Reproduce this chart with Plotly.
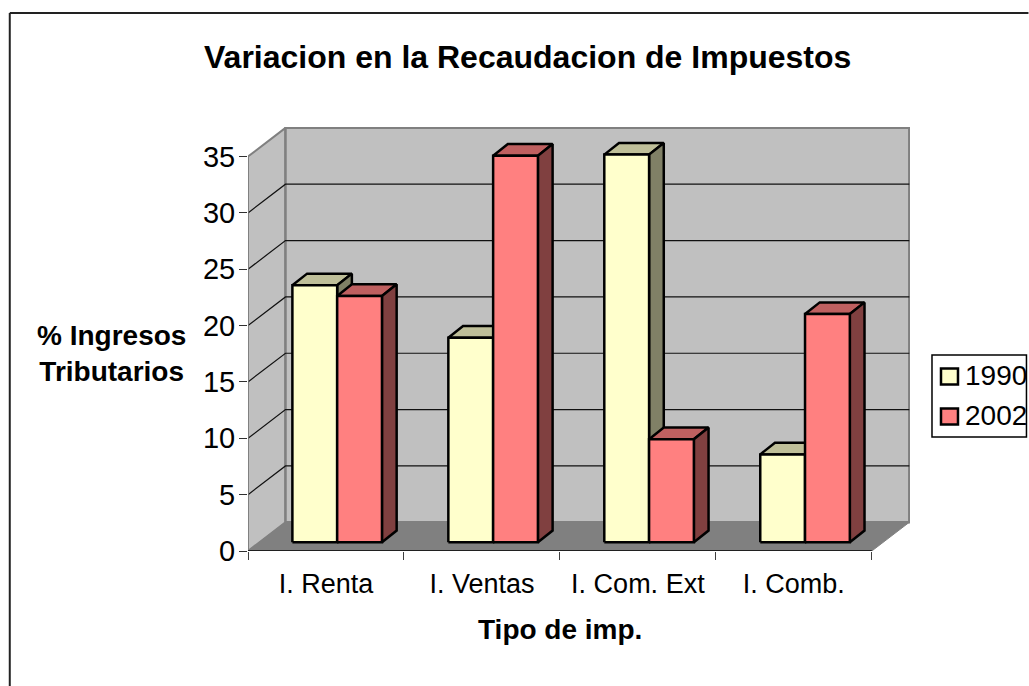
import plotly.graph_objects as go

categories = ["I. Renta", "I. Ventas", "I. Com. Ext", "I. Comb."]
series_names = ["1990", "2002"]
values_1990 = [22.8, 18.15, 34.4, 7.8]
values_2002 = [21.85, 34.3, 9.15, 20.25]
y_ticks = [0, 5, 10, 15, 20, 25, 30, 35]

FONT = "Liberation Sans"
W, H = 1029, 686
L, R, T, B = 248.3, 910.5, 127.0, 551.0
UX = 156.0      # px per category
UY = 11.27      # px per value unit

# depth of the floor and of the bars, in data units
DX, DY = 37.5 / UX, 28.7 / UY
BX, BY = 14.7 / UX, 11.7 / UY
BAR_START, BAR_W, BASE = 44.4 / UX, 44.8 / UX, 8.7 / UY

STYLES = [
    dict(front="#FFFFCC", top="#BFBF99", side="#808066"),
    dict(front="#FF8080", top="#BF6060", side="#804040"),
]

fig = go.Figure()


def poly(xs, ys, fill, line="#000000", width=2.5):
    fig.add_trace(go.Scatter(
        x=xs + xs[:1], y=ys + ys[:1], mode="lines", fill="toself", fillcolor=fill,
        line=dict(color=line, width=width), hoverinfo="skip", showlegend=False,
        cliponaxis=False,
    ))


def path(xs, ys, color, width):
    fig.add_trace(go.Scatter(
        x=xs, y=ys, mode="lines", line=dict(color=color, width=width),
        hoverinfo="skip", showlegend=False, cliponaxis=False,
    ))


top_v = y_ticks[-1]
n = len(categories)
poly([0, DX, DX, 0], [0, DY, top_v + DY, top_v], "#C0C0C0", "#808080", 2)
poly([DX, n + DX, n + DX, DX], [DY, DY, top_v + DY, top_v + DY], "#C0C0C0", "#808080", 2.5)
poly([0, DX, n + DX, n], [0, DY, DY, 0], "#808080", "#808080", 1)

gx, gy = [], []
for v in y_ticks[1:-1]:
    gx += [0, DX, n + DX, None]
    gy += [v, v + DY, v + DY, None]
path(gx, gy, "#111111", 1.2)
path([0, 0], [0, top_v], "#808080", 1.5)
path([0, n], [0, 0], "#000000", 1.5)

for i in range(n):
    for s, vals in enumerate((values_1990, values_2002)):
        st = STYLES[s]
        x0 = i + BAR_START + s * BAR_W
        x1 = x0 + BAR_W
        y0, y1 = BASE, BASE + vals[i]
        poly([x0, x1, x1 + BX, x0 + BX], [y1, y1, y1 + BY, y1 + BY], st["top"])
        poly([x1, x1 + BX, x1 + BX, x1], [y0, y0 + BY, y1 + BY, y1], st["side"])
        poly([x0, x1, x1, x0], [y0, y0, y1, y1], st["front"])


def px(x):
    return (x - L) / (R - L)


def py(y):
    return (B - y) / (B - T)


def text(x, y, s, size, bold=False):
    fig.add_annotation(
        x=px(x), y=py(y), xref="paper", yref="paper", text=f"<b>{s}</b>" if bold else s,
        showarrow=False, font=dict(family=FONT, size=size, color="#000000"),
        xanchor="center", yanchor="middle",
    )


text(527.5, 57, "Variacion en la Recaudacion de Impuestos", 32, True)
text(111.5, 353.5, "% Ingresos<br>Tributarios", 28, True)
text(560, 629, "Tipo de imp.", 28, True)

# outer frame (left and top edges are visible)
shapes = [
    dict(type="line", xref="paper", yref="paper", x0=px(10), x1=px(10), y0=py(686), y1=py(13),
         line=dict(color="#222222", width=2)),
    dict(type="line", xref="paper", yref="paper", x0=px(10), x1=px(1029), y0=py(13), y1=py(13),
         line=dict(color="#222222", width=2)),
    dict(type="rect", xref="paper", yref="paper", x0=px(932.5), x1=px(1027), y0=py(437), y1=py(355),
         line=dict(color="#000000", width=1.5), fillcolor="#FFFFFF"),
]
for s, name in enumerate(series_names):
    cy = 376.5 + s * 40
    shapes.append(dict(type="rect", xref="paper", yref="paper",
                       x0=px(941.5), x1=px(958.5), y0=py(cy + 8), y1=py(cy - 8),
                       fillcolor=STYLES[s]["front"], line=dict(color="#000000", width=2.5)))
    fig.add_annotation(x=px(964), y=py(cy - 1.5), xref="paper", yref="paper", text=name, showarrow=False,
                       xanchor="left", yanchor="middle",
                       font=dict(family=FONT, size=28, color="#000000"))

fig.update_layout(
    width=W, height=H, autosize=False, showlegend=False,
    paper_bgcolor="#FFFFFF", plot_bgcolor="rgba(0,0,0,0)",
    margin=dict(l=L, r=W - R, t=T, b=H - B, pad=0),
    shapes=shapes,
    xaxis=dict(
        range=[0, (R - L) / UX], showgrid=False, zeroline=False, showline=False,
        tickmode="array", tickvals=[i + 0.5 for i in range(n)], ticktext=categories,
        ticks="", ticklabelstandoff=14, tickfont=dict(family=FONT, size=27, color="#000000"),
        minor=dict(tick0=0, dtick=1, ticks="outside", ticklen=8, tickcolor="#404040", tickwidth=1, showgrid=False),
        fixedrange=True,
    ),
    yaxis=dict(
        range=[0, (B - T) / UY], showgrid=False, zeroline=False, showline=False,
        tickmode="array", tickvals=y_ticks, ticktext=[str(v) for v in y_ticks],
        ticks="outside", ticklen=8, tickcolor="#303030", tickwidth=1, ticklabelstandoff=-2,
        tickfont=dict(family=FONT, size=29, color="#000000"), fixedrange=True,
    ),
)

fig.write_html("out.html", config=dict(displayModeBar=False),
               post_script="document.body.style.margin='0';")
